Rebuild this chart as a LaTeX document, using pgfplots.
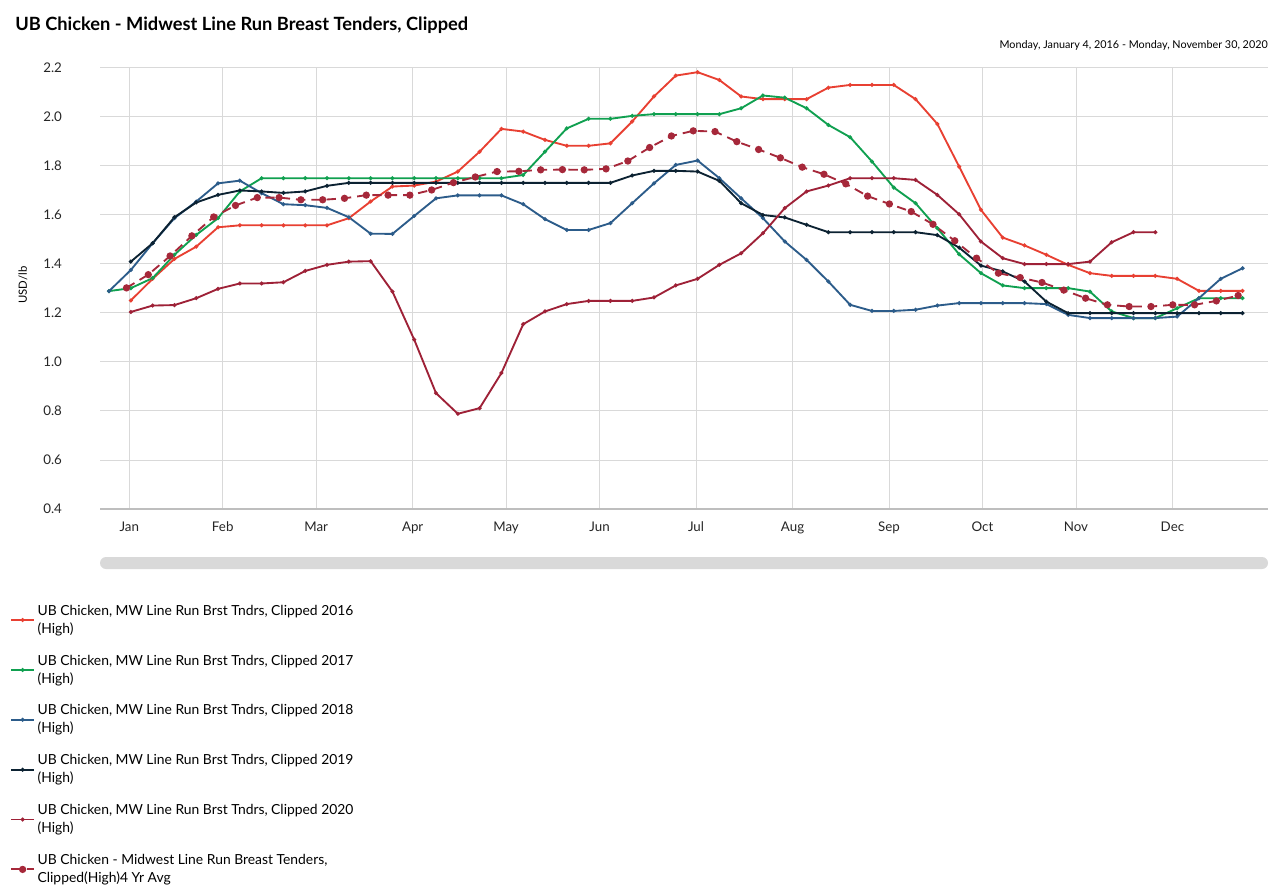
\documentclass[border=0pt]{standalone}
\usepackage{pgfplots}
\pgfplotsset{compat=1.18}
\usepackage{pgfplotstable}
\usepackage{fontspec}
\setmainfont{Lato}

\definecolor{cA}{RGB}{232,64,50}
\definecolor{cB}{RGB}{16,160,80}
\definecolor{cC}{RGB}{44,92,138}
\definecolor{cD}{RGB}{12,34,50}
\definecolor{cE}{RGB}{158,33,55}
\definecolor{cF}{RGB}{166,40,58}
\definecolor{gridgray}{RGB}{217,217,217}
\definecolor{axisgray}{RGB}{190,190,190}

\pgfplotstableread{
x y
0.5 1.250
7.5 1.338
14.5 1.419
21.5 1.469
28.5 1.548
35.5 1.556
42.5 1.556
49.5 1.556
56.5 1.556
63.5 1.556
70.5 1.585
77.5 1.653
84.5 1.714
91.5 1.718
98.5 1.734
105.5 1.775
112.5 1.856
119.5 1.949
126.5 1.938
133.5 1.904
140.5 1.880
147.5 1.880
154.5 1.890
161.5 1.979
168.5 2.081
175.5 2.166
182.5 2.180
189.5 2.148
196.5 2.081
203.5 2.070
210.5 2.070
217.5 2.070
224.5 2.117
231.5 2.128
238.5 2.128
245.5 2.128
252.5 2.070
259.5 1.969
266.5 1.795
273.5 1.619
280.5 1.506
287.5 1.474
294.5 1.436
301.5 1.395
308.5 1.361
315.5 1.350
322.5 1.350
329.5 1.350
336.5 1.338
343.5 1.289
350.5 1.289
357.5 1.289
}\tA

\pgfplotstableread{
x y
-6.5 1.288
0.5 1.300
7.5 1.341
14.5 1.436
21.5 1.517
28.5 1.585
35.5 1.694
42.5 1.748
49.5 1.748
56.5 1.748
63.5 1.748
70.5 1.748
77.5 1.748
84.5 1.748
91.5 1.748
98.5 1.748
105.5 1.748
112.5 1.748
119.5 1.748
126.5 1.761
133.5 1.856
140.5 1.951
147.5 1.990
154.5 1.990
161.5 2.002
168.5 2.009
175.5 2.009
182.5 2.009
189.5 2.009
196.5 2.033
203.5 2.085
210.5 2.076
217.5 2.033
224.5 1.965
231.5 1.915
238.5 1.816
245.5 1.710
252.5 1.646
259.5 1.544
266.5 1.438
273.5 1.361
280.5 1.311
287.5 1.300
294.5 1.300
301.5 1.300
308.5 1.286
315.5 1.205
322.5 1.178
329.5 1.178
336.5 1.218
343.5 1.259
350.5 1.259
357.5 1.259
}\tB

\pgfplotstableread{
x y
-6.5 1.288
0.5 1.374
7.5 1.483
14.5 1.585
21.5 1.653
28.5 1.727
35.5 1.738
42.5 1.687
49.5 1.642
56.5 1.638
63.5 1.627
70.5 1.589
77.5 1.522
84.5 1.521
91.5 1.594
98.5 1.666
105.5 1.678
112.5 1.678
119.5 1.678
126.5 1.642
133.5 1.581
140.5 1.537
147.5 1.537
154.5 1.565
161.5 1.646
168.5 1.727
175.5 1.802
182.5 1.820
189.5 1.748
196.5 1.666
203.5 1.585
210.5 1.490
217.5 1.415
224.5 1.327
231.5 1.232
238.5 1.207
245.5 1.207
252.5 1.212
259.5 1.229
266.5 1.239
273.5 1.239
280.5 1.239
287.5 1.239
294.5 1.235
301.5 1.191
308.5 1.178
315.5 1.178
322.5 1.178
329.5 1.178
336.5 1.184
343.5 1.259
350.5 1.338
357.5 1.381
}\tC

\pgfplotstableread{
x y
0.5 1.408
7.5 1.483
14.5 1.589
21.5 1.649
28.5 1.680
35.5 1.698
42.5 1.694
49.5 1.688
56.5 1.694
63.5 1.717
70.5 1.729
77.5 1.729
84.5 1.729
91.5 1.729
98.5 1.729
105.5 1.729
112.5 1.729
119.5 1.729
126.5 1.729
133.5 1.729
140.5 1.729
147.5 1.729
154.5 1.729
161.5 1.759
168.5 1.778
175.5 1.778
182.5 1.775
189.5 1.737
196.5 1.646
203.5 1.598
210.5 1.588
217.5 1.558
224.5 1.528
231.5 1.528
238.5 1.528
245.5 1.528
252.5 1.528
259.5 1.516
266.5 1.465
273.5 1.392
280.5 1.368
287.5 1.327
294.5 1.245
301.5 1.198
308.5 1.198
315.5 1.198
322.5 1.198
329.5 1.198
336.5 1.198
343.5 1.198
350.5 1.198
357.5 1.198
}\tD

\pgfplotstableread{
x y
0.5 1.203
7.5 1.229
14.5 1.231
21.5 1.259
28.5 1.297
35.5 1.319
42.5 1.319
49.5 1.324
56.5 1.370
63.5 1.395
70.5 1.408
77.5 1.410
84.5 1.286
91.5 1.090
98.5 0.872
105.5 0.788
112.5 0.811
119.5 0.954
126.5 1.153
133.5 1.205
140.5 1.235
147.5 1.248
154.5 1.248
161.5 1.248
168.5 1.262
175.5 1.311
182.5 1.338
189.5 1.395
196.5 1.442
203.5 1.524
210.5 1.626
217.5 1.694
224.5 1.718
231.5 1.748
238.5 1.748
245.5 1.748
252.5 1.741
259.5 1.680
266.5 1.601
273.5 1.490
280.5 1.422
287.5 1.398
294.5 1.398
301.5 1.398
308.5 1.408
315.5 1.487
322.5 1.528
329.5 1.528
}\tE

\pgfplotstableread{
x y
-0.9 1.301
6.1 1.355
13.1 1.431
20.1 1.513
27.1 1.590
34.1 1.637
41.1 1.669
48.1 1.669
55.1 1.660
62.1 1.660
69.1 1.666
76.1 1.679
83.1 1.679
90.1 1.679
97.1 1.700
104.1 1.730
111.1 1.753
118.1 1.775
125.1 1.776
132.1 1.782
139.1 1.783
146.1 1.782
153.1 1.786
160.1 1.818
167.1 1.873
174.1 1.920
181.1 1.941
188.1 1.938
195.1 1.897
202.1 1.865
209.1 1.831
216.1 1.793
223.1 1.764
230.1 1.725
237.1 1.675
244.1 1.643
251.1 1.612
258.1 1.560
265.1 1.493
272.1 1.422
279.1 1.361
286.1 1.343
293.1 1.323
300.1 1.292
307.1 1.259
314.1 1.232
321.1 1.225
328.1 1.225
335.1 1.232
342.1 1.232
349.1 1.248
356.1 1.270
}\tF

\begin{document}
\begin{tikzpicture}
\path[use as bounding box] (0,0) rectangle (963pt,670.5pt);
\node[anchor=west, inner sep=0pt, font=\fontsize{13.7}{16}\selectfont\bfseries] at (11.25pt,651.75pt) {UB Chicken - Midwest Line Run Breast Tenders, Clipped};
\node[anchor=east, inner sep=0pt, font=\fontsize{8.1}{9.5}\selectfont] at (951pt,636.75pt) {Monday, January 4, 2016 - Monday, November 30, 2020};
\fill[gridgray, rounded corners=4.5pt] (75pt,243.75pt) rectangle (951pt,252.75pt);
\begin{axis}[
  at={(75pt,288.75pt)}, anchor=south west,
  scale only axis, width=876.2pt, height=331.3pt,
  xmin=-9.41, xmax=365.77, ymin=0.4, ymax=2.2,
  xtick={0,30,60,91,121,151,182,213,244,274,304,335},
  xticklabels={Jan,Feb,Mar,Apr,May,Jun,Jul,Aug,Sep,Oct,Nov,Dec},
  ytick={0.4,0.6,0.8,1.0,1.2,1.4,1.6,1.8,2.0,2.2},
  yticklabel style={/pgf/number format/fixed, /pgf/number format/fixed zerofill, /pgf/number format/precision=1, xshift=-25pt},
  xticklabel style={yshift=-6pt},
  /pgf/number format/assume math mode=true,
  tick label style={font=\fontsize{10}{12}\selectfont, text=black!85},
  axis x line*=bottom, axis y line*=left,
  y axis line style={draw=none},
  x axis line style={draw=axisgray, line width=0.8pt},
  major tick length=0pt, tick style={draw=none},
  grid=major, major grid style={draw=gridgray, line width=0.6pt},
  ylabel={USD/lb},
  every axis y label/.style={at={(axis description cs:-0.0659,0.507)}, rotate=90, anchor=center, font=\fontsize{8.5}{10}\selectfont},
  legend cell align=left,
  legend style={at={(axis description cs:-0.0770,-0.2105)}, anchor=north west, draw=none, fill=none, inner sep=0pt, row sep=10.75pt, cells={align=left}, font=\fontsize{10.4}{13.5}\selectfont},
  every axis plot/.append style={line width=1.4pt, mark=*, mark size=0.7pt},
]
\addplot[cA, mark options={fill=cA}] table {\tA};
\addlegendentry{UB Chicken, MW Line Run Brst Tndrs, Clipped 2016\\(High)}
\addplot[cB, mark options={fill=cB}] table {\tB};
\addlegendentry{UB Chicken, MW Line Run Brst Tndrs, Clipped 2017\\(High)}
\addplot[cC, mark options={fill=cC}] table {\tC};
\addlegendentry{UB Chicken, MW Line Run Brst Tndrs, Clipped 2018\\(High)}
\addplot[cD, mark options={fill=cD}] table {\tD};
\addlegendentry{UB Chicken, MW Line Run Brst Tndrs, Clipped 2019\\(High)}
\addplot[cE, mark options={fill=cE}] table {\tE};
\addlegendentry{UB Chicken, MW Line Run Brst Tndrs, Clipped 2020\\(High)}
\addplot[cF, dash pattern=on 7pt off 4.5pt, mark size=2pt, mark options={solid, fill=cF}] table {\tF};
\addlegendentry{UB Chicken - Midwest Line Run Breast Tenders,\\Clipped(High)4 Yr Avg}
\end{axis}
\end{tikzpicture}
\end{document}
